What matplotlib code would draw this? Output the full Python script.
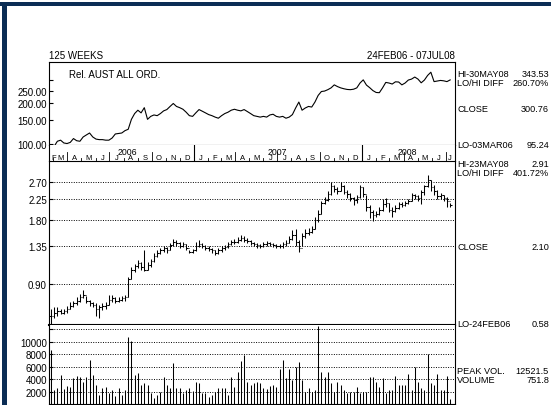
"""
Weekly chart: relative strength vs AUST ALL ORD, weekly OHLC bars and volume.
Saves out.png (551x406).
"""
import numpy as np
import matplotlib
matplotlib.use("Agg")
import matplotlib.pyplot as plt
from matplotlib.patches import Rectangle
from matplotlib.ticker import NullLocator

plt.rcParams["font.family"] = ["Liberation Sans", "DejaVu Sans"]

# ---- data (125 weekly bars, 24FEB06 - 07JUL08) -------------------------
rel = [98, 95.24, 104, 106, 101, 100, 102, 109, 105, 104,
       112, 116, 120, 112, 108, 107, 107, 106, 106, 110,
       118, 119, 120, 125, 128, 152, 168, 178, 170, 186,
       152, 160, 164, 162, 168, 176, 180, 190, 200, 190,
       186, 181, 172, 162, 160, 170, 180, 175, 170, 165,
       162, 158, 155, 162, 168, 172, 178, 181, 178, 176,
       180, 174, 168, 162, 160, 158, 160, 158, 164, 166,
       160, 158, 160, 155, 158, 165, 185, 205, 178, 185,
       190, 188, 205, 230, 246, 248, 254, 262, 276, 268,
       262, 258, 255, 254, 256, 262, 285, 301, 275, 263,
       250, 242, 241, 262, 288, 285, 280, 291, 290, 276,
       285, 300, 305, 316, 305, 286, 300, 325, 343.53, 292,
       295, 298, 296, 292, 300.76]

close = [0.64, 0.66, 0.67, 0.66, 0.67, 0.69, 0.71, 0.73, 0.75, 0.78,
         0.80, 0.75, 0.73, 0.72, 0.69, 0.70, 0.71, 0.72, 0.76, 0.77,
         0.75, 0.76, 0.77, 0.78, 0.95, 1.04, 1.09, 1.13, 1.08, 1.05,
         1.10, 1.15, 1.22, 1.26, 1.29, 1.32, 1.30, 1.37, 1.42, 1.40,
         1.36, 1.38, 1.33, 1.27, 1.29, 1.36, 1.39, 1.35, 1.33, 1.31,
         1.29, 1.26, 1.29, 1.32, 1.34, 1.38, 1.41, 1.42, 1.45, 1.48,
         1.45, 1.43, 1.40, 1.38, 1.37, 1.36, 1.38, 1.40, 1.38, 1.37,
         1.36, 1.35, 1.38, 1.40, 1.46, 1.52, 1.42, 1.33, 1.50, 1.56,
         1.58, 1.63, 1.80, 1.92, 2.15, 2.22, 2.38, 2.58, 2.50, 2.45,
         2.58, 2.42, 2.36, 2.27, 2.22, 2.30, 2.55, 2.38, 2.05, 1.95,
         1.88, 1.92, 2.00, 2.12, 2.15, 2.00, 1.98, 2.04, 2.12, 2.10,
         2.15, 2.20, 2.35, 2.32, 2.26, 2.42, 2.58, 2.75, 2.55, 2.45,
         2.32, 2.35, 2.28, 2.20, 2.10]

high = [0.69, 0.70, 0.70, 0.69, 0.69, 0.71, 0.74, 0.75, 0.78, 0.81,
        0.84, 0.79, 0.76, 0.74, 0.73, 0.72, 0.73, 0.74, 0.80, 0.80,
        0.78, 0.78, 0.79, 0.80, 0.97, 1.08, 1.12, 1.17, 1.14, 1.30,
        1.14, 1.18, 1.25, 1.30, 1.33, 1.35, 1.34, 1.40, 1.46, 1.44,
        1.41, 1.41, 1.38, 1.30, 1.31, 1.41, 1.45, 1.40, 1.37, 1.35,
        1.33, 1.30, 1.32, 1.35, 1.37, 1.41, 1.44, 1.46, 1.49, 1.53,
        1.50, 1.47, 1.44, 1.42, 1.40, 1.39, 1.41, 1.43, 1.42, 1.40,
        1.39, 1.38, 1.41, 1.44, 1.50, 1.60, 1.62, 1.45, 1.56, 1.62,
        1.64, 1.68, 1.85, 2.00, 2.20, 2.30, 2.45, 2.70, 2.62, 2.56,
        2.70, 2.62, 2.48, 2.40, 2.30, 2.34, 2.62, 2.55, 2.35, 2.10,
        2.00, 1.98, 2.06, 2.25, 2.28, 2.15, 2.05, 2.10, 2.18, 2.18,
        2.20, 2.25, 2.40, 2.38, 2.34, 2.48, 2.62, 2.91, 2.75, 2.60,
        2.48, 2.40, 2.35, 2.30, 2.16]

low = [0.58, 0.62, 0.64, 0.65, 0.65, 0.66, 0.69, 0.70, 0.72, 0.74,
       0.77, 0.73, 0.71, 0.70, 0.64, 0.62, 0.68, 0.69, 0.72, 0.74,
       0.73, 0.74, 0.75, 0.75, 0.78, 0.95, 1.02, 1.07, 1.04, 1.03,
       1.04, 1.08, 1.14, 1.20, 1.24, 1.27, 1.26, 1.30, 1.36, 1.36,
       1.33, 1.34, 1.30, 1.25, 1.25, 1.28, 1.34, 1.33, 1.30, 1.28,
       1.26, 1.23, 1.24, 1.27, 1.30, 1.33, 1.37, 1.38, 1.40, 1.43,
       1.42, 1.40, 1.37, 1.35, 1.33, 1.32, 1.34, 1.35, 1.35, 1.34,
       1.33, 1.32, 1.33, 1.36, 1.40, 1.44, 1.36, 1.27, 1.36, 1.48,
       1.52, 1.56, 1.62, 1.76, 1.92, 2.12, 2.20, 2.35, 2.42, 2.38,
       2.45, 2.36, 2.28, 2.20, 2.10, 2.15, 2.28, 2.30, 1.98, 1.82,
       1.78, 1.85, 1.88, 1.98, 2.05, 1.95, 1.85, 1.95, 2.02, 2.05,
       2.08, 2.12, 2.20, 2.25, 2.20, 2.12, 2.35, 2.55, 2.45, 2.35,
       2.25, 2.25, 2.20, 2.05, 2.05]

volume = [8700, 2300, 2500, 4600, 2400, 2900, 2700, 4200, 4500, 4400,
          3600, 4300, 7100, 4700, 3100, 1400, 2500, 2800, 1700, 2200,
          1300, 2500, 1500, 2200, 10750, 10050, 4700, 5000, 3100, 3400,
          3100, 1700, 1000, 1400, 1950, 4350, 3000, 2600, 6600, 2500,
          2500, 1700, 2200, 2600, 2100, 3600, 3400, 1700, 1800, 1100,
          1500, 2000, 2500, 2500, 2500, 1400, 4350, 2800, 5200, 6850,
          7800, 3500, 3100, 3300, 3600, 3400, 2600, 2400, 2900, 3000,
          2800, 5700, 7000, 4100, 5700, 3900, 5950, 6750, 3900, 1950,
          2500, 1950, 2200, 12521.5, 5100, 4350, 5100, 3300, 1950, 3500,
          3000, 2200, 1700, 2000, 1950, 2800, 1700, 2000, 1950, 4300,
          4350, 3600, 2800, 4100, 1700, 2200, 2200, 4450, 3000, 3100,
          3000, 4800, 2200, 5950, 3500, 2500, 2200, 8000, 3300, 3000,
          4800, 2200, 2200, 4450, 751.8]

# month boundaries in weeks from 24FEB06 (Mar06 ... Jul08)
month_bounds = [0.71, 5.14, 9.43, 13.86, 18.14, 22.57, 27.0, 31.29, 35.71,
                40.0, 44.43, 48.86, 52.86, 57.29, 61.57, 66.0, 70.29, 74.71,
                79.14, 83.43, 87.86, 92.14, 96.57, 101.0, 105.14, 109.57,
                113.86, 118.29, 122.57]
month_letters = ["F", "M", "A", "M", "J", "J", "A", "S", "O", "N", "D",
                 "J", "F", "M", "A", "M", "J", "J", "A", "S", "O", "N", "D",
                 "J", "F", "M", "A", "M", "J", "J"]
years = ["2006", "2007", "2008"]
year_pos = [23.9, 70.2, 110.6]

rel_ticks = [100, 150, 200, 250, 300]
rel_labels = ["100.00", "150.00", "200.00", "250.00", ""]
price_ticks = [0.90, 1.35, 1.80, 2.25, 2.70]
price_labels = ["0.90", "1.35", "1.80", "2.25", "2.70"]
vol_ticks = [2000, 4000, 6000, 8000, 10000, 12000]
vol_labels = ["2000", "4000", "6000", "8000", "10000", ""]

W, H = 551, 406
NAVY = "#0b2d55"
DOT = (0, (1.0, 1.5))


def fy(py):
    return 1 - py / H


def fx(px):
    return px / W


def style(ax):
    for s in ax.spines.values():
        s.set_linewidth(0.8)
    ax.tick_params(axis="y", direction="in", length=3, labelsize=7, pad=1.5)
    ax.tick_params(axis="x", bottom=False, labelbottom=False)
    ax.yaxis.set_minor_locator(NullLocator())


def main():
    fig = plt.figure(figsize=(W / 100, H / 100), dpi=100)

    x = np.arange(len(close))
    xlim = (-0.6, 125.5)
    left, width = fx(49), fx(455) - fx(49)

    ax_rel = fig.add_axes([left, fy(146), width, (146 - 63) / H])
    ax_mon = fig.add_axes([left, fy(162), width, (162 - 146) / H])
    ax_px = fig.add_axes([left, fy(326), width, (326 - 162) / H])
    ax_vol = fig.add_axes([left, fy(405), width, (405 - 326) / H])

    # --- relative line ---
    ax_rel.plot(x, rel, color="black", lw=0.8)
    ax_rel.set_yscale("log")
    ax_rel.set_ylim(97.5, 410)
    ax_rel.set_xlim(*xlim)
    style(ax_rel)
    ax_rel.set_yticks(rel_ticks, rel_labels)
    ax_rel.text(0.05, 0.86, "Rel. AUST ALL ORD.", transform=ax_rel.transAxes,
                fontsize=7, va="center", ha="left")

    # --- month strip ---
    ax_mon.set_xlim(*xlim)
    ax_mon.set_ylim(0, 1)
    ax_mon.set_xticks([])
    ax_mon.set_yticks([])
    for s in ("top", "bottom"):
        ax_mon.spines[s].set_visible(False)
    for s in ("left", "right"):
        ax_mon.spines[s].set_linewidth(0.8)
    for k, b in enumerate(month_bounds):
        m = (k + 2) % 12 + 1  # calendar month starting at this boundary
        if m == 1:
            ax_mon.plot([b, b], [0, 1], color="black", lw=0.8)
        elif m in (4, 7, 10):
            ax_mon.plot([b, b], [0, 0.55], color="black", lw=0.6)
        else:
            ax_mon.plot([b, b], [0, 0.2], color="black", lw=0.6)
    edges = [-0.6] + month_bounds + [125.5]
    for k, lab in enumerate(month_letters):
        if k == 0:
            xp, ha = 0.0, "left"
        else:
            xp, ha = (edges[k] + edges[k + 1]) / 2, "center"
        ax_mon.text(xp, 0.02, lab, fontsize=5.5, ha=ha, va="bottom")
    for yr, xp in zip(years, year_pos):
        ax_mon.text(xp, 0.62, yr, fontsize=6.3, ha="center", va="center")

    # --- price bars ---
    opens = [close[0]] + close[:-1]
    ax_px.vlines(x, low, high, color="black", lw=0.75)
    ax_px.hlines(close, x, x + 0.45, color="black", lw=0.75)
    ax_px.hlines(opens, x - 0.45, x, color="black", lw=0.75)
    ax_px.set_yscale("log")
    ax_px.set_ylim(0.578, 3.38)
    ax_px.set_xlim(*xlim)
    style(ax_px)
    ax_px.spines["bottom"].set_linewidth(1.5)
    ax_px.set_yticks(price_ticks, price_labels)
    for t in price_ticks:
        ax_px.axhline(t, color="black", lw=0.7, ls=DOT, zorder=0)

    # --- volume ---
    ax_vol.vlines(x, 0, volume, color="black", lw=0.75)
    ax_vol.set_ylim(0, 12700)
    ax_vol.set_xlim(*xlim)
    style(ax_vol)
    ax_vol.spines["top"].set_visible(False)
    ax_vol.set_yticks(vol_ticks, vol_labels)
    for t in vol_ticks:
        ax_vol.axhline(t, color="black", lw=0.7, ls=DOT, zorder=0)

    # --- header texts ---
    fig.text(fx(49), fy(56), "125 WEEKS", fontsize=7, va="center", ha="left")
    fig.text(fx(455), fy(56), "24FEB06 - 07JUL08", fontsize=7, va="center",
             ha="right")

    # --- right-hand statistics ---
    stats = [
        (75, "HI-30MAY08", "343.53"),
        (83.5, "LO/HI DIFF", "260.70%"),
        (110, "CLOSE", "300.76"),
        (145, "LO-03MAR06", "95.24"),
        (165, "HI-23MAY08", "2.91"),
        (173.5, "LO/HI DIFF", "401.72%"),
        (248, "CLOSE", "2.10"),
        (325, "LO-24FEB06", "0.58"),
        (372, "PEAK VOL.", "12521.5"),
        (380.5, "VOLUME", "751.8"),
    ]
    for py, name, val in stats:
        fig.text(fx(457), fy(py), name, fontsize=6.6, va="center", ha="left")
        fig.text(fx(549), fy(py), val, fontsize=6.6, va="center", ha="right")

    # --- navy frame ---
    fig.add_artist(Rectangle((0, fy(7)), 1, fy(3) - fy(7),
                             transform=fig.transFigure, color=NAVY, lw=0))
    fig.add_artist(Rectangle((fx(2), 0), fx(7) - fx(2), fy(3),
                             transform=fig.transFigure, color=NAVY, lw=0))

    fig.savefig("out.png", dpi=100, facecolor="white")
    plt.close(fig)


if __name__ == "__main__":
    main()
